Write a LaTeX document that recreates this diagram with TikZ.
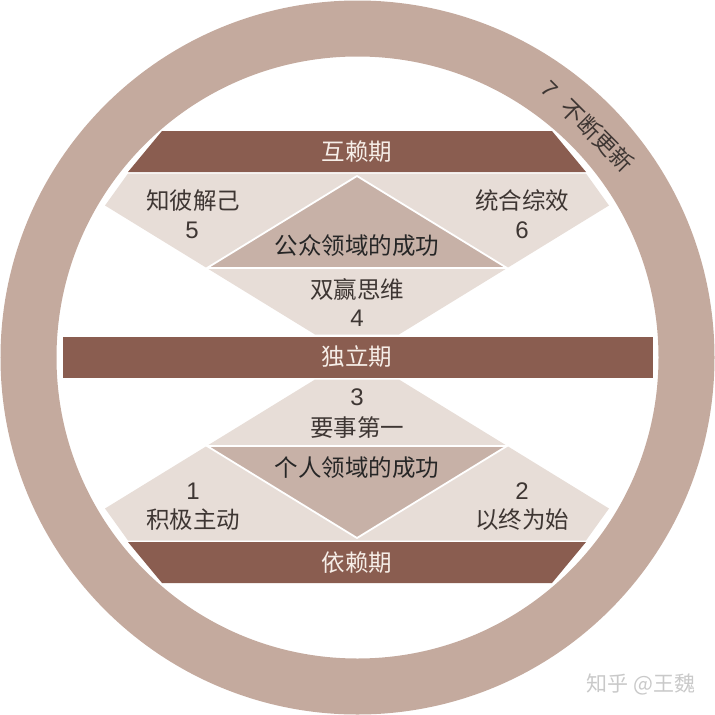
\documentclass[tikz,border=0pt]{standalone}
\usepackage{fontspec}
\setmainfont{Liberation Sans}
\newfontfamily\cjk{Noto Sans CJK SC}
\definecolor{ringc}{HTML}{C4AA9E}
\definecolor{bandc}{HTML}{8A5D50}
\definecolor{lightc}{HTML}{E7DDD7}
\definecolor{diamc}{HTML}{C7B1A7}
\definecolor{txtc}{HTML}{3E3633}
\definecolor{bandtxt}{HTML}{F6EEE8}
\definecolor{wmc}{HTML}{C9C9C9}
\tikzset{
  bandlabel/.style={inner sep=0pt, text=bandtxt, font=\cjk\fontsize{23.5}{25}\selectfont},
  lbl/.style={inner sep=0pt, text=txtc, font=\cjk\fontsize{23.5}{25}\selectfont},
  numlbl/.style={inner sep=0pt, text=txtc, font=\fontsize{24}{26}\selectfont},
  centerlbl/.style={inner sep=0pt, text=black!85, font=\cjk\fontsize{23.5}{25}\selectfont},
}
\begin{document}
\begin{tikzpicture}[x=1pt,y=-1pt]
\useasboundingbox (0,0) rectangle (715,715);
% ring
\draw[ringc, line width=56pt] (357.5,357.5) circle[radius=329];
% bands
\fill[bandc] (162,131) -- (552,131) -- (586,172) -- (128,172) -- cycle;
\fill[bandc] (62.5,337) rectangle (652.5,377.5);
\fill[bandc] (128,542) -- (586,542) -- (552,583) -- (162,583) -- cycle;
% upper light shape
\fill[lightc] (128,173.5) -- (586,173.5) -- (609,205.5) -- (399,334.5) -- (315,334.5) -- (105,205.5) -- cycle;
% lower light shape
\fill[lightc] (128,540.5) -- (586,540.5) -- (609,508.5) -- (399,379.5) -- (315,379.5) -- (105,508.5) -- cycle;
% diamonds
\filldraw[fill=diamc, draw=white, line width=1.8pt, line join=miter] (357,176) -- (507,268) -- (207,268) -- cycle;
\filldraw[fill=diamc, draw=white, line width=1.8pt, line join=miter] (357,538) -- (507,446) -- (207,446) -- cycle;
% band labels
\node[bandlabel] (hulai) at (357,152) {互赖期};
\node[bandlabel] (duli) at (357,357) {独立期};
\node[bandlabel] (yilai) at (357,563) {依赖期};
% upper labels
\node[lbl] (zhibi) at (193,201) {知彼解己};
\node[numlbl] (n5) at (192,230) {5};
\node[lbl] (tonghe) at (522,201) {统合综效};
\node[numlbl] (n6) at (522,230) {6};
\node[centerlbl] (gongzhong) at (357,246) {公众领域的成功};
\node[lbl] (shuangying) at (357,289) {双赢思维};
\node[numlbl] (n4) at (357,318) {4};
% lower labels
\node[numlbl] (n3) at (357,397) {3};
\node[lbl] (yaoshi) at (357,428) {要事第一};
\node[centerlbl] (geren) at (357,468) {个人领域的成功};
\node[numlbl] (n1) at (193,491) {1};
\node[lbl] (jiji) at (193,520) {积极主动};
\node[numlbl] (n2) at (522,491) {2};
\node[lbl] (yizhong) at (522,520) {以终为始};
% ring label
\node[inner sep=0pt, text=txtc, rotate=-45, font=\fontsize{23}{25}\selectfont] (renew) at (588,126) {7\hspace{14pt}{\cjk 不断更新}};
% watermark
\node[inner sep=0pt, text=wmc, font=\cjk\fontsize{21}{23}\selectfont] (wm) at (641,684) {知乎 @王魏};
\end{tikzpicture}
\end{document}
